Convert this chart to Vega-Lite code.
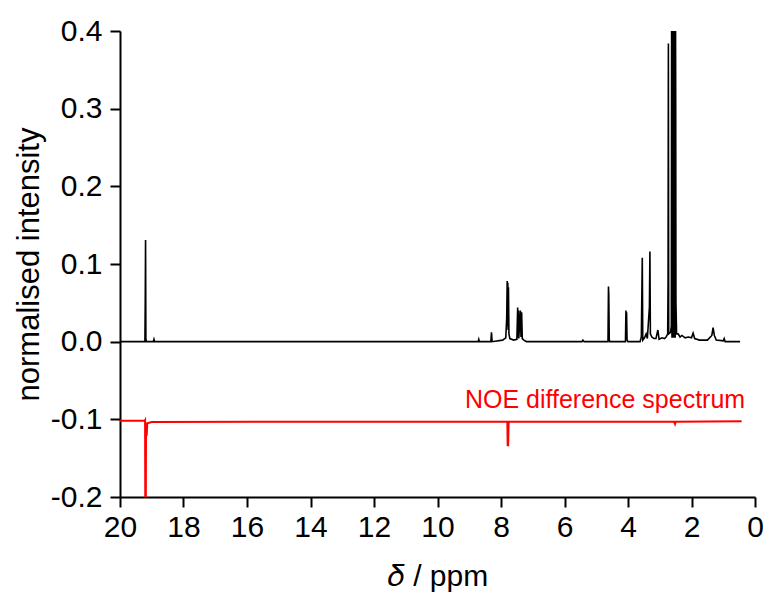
{
  "$schema": "https://vega.github.io/schema/vega-lite/v6.json",
  "width": 635,
  "height": 466,
  "autosize": "none",
  "padding": {"left": 120, "top": 31, "right": 8, "bottom": 104},
  "background": "white",
  "config": {
    "view": {"stroke": null},
    "font": "Liberation Sans"
  },
  "datasets": {
    "spectrum": [
      {"ppm": 20, "intensity": 0}, {"ppm": 19.26, "intensity": 0}, {"ppm": 19.215, "intensity": 0},
      {"ppm": 19.205, "intensity": 0.05}, {"ppm": 19.195, "intensity": 0.131}, {"ppm": 19.185, "intensity": 0.004},
      {"ppm": 19.17, "intensity": 0}, {"ppm": 18.95, "intensity": 0}, {"ppm": 18.93, "intensity": 0.003},
      {"ppm": 18.91, "intensity": 0}, {"ppm": 8.72, "intensity": 0}, {"ppm": 8.7, "intensity": 0.003},
      {"ppm": 8.68, "intensity": 0}, {"ppm": 8.32, "intensity": 0}, {"ppm": 8.3, "intensity": 0.012},
      {"ppm": 8.28, "intensity": 0}, {"ppm": 7.95, "intensity": 0.002}, {"ppm": 7.85, "intensity": 0.005},
      {"ppm": 7.82, "intensity": 0.03}, {"ppm": 7.805, "intensity": 0.078}, {"ppm": 7.795, "intensity": 0.02},
      {"ppm": 7.785, "intensity": 0.076}, {"ppm": 7.775, "intensity": 0.015}, {"ppm": 7.765, "intensity": 0.07},
      {"ppm": 7.75, "intensity": 0.01}, {"ppm": 7.72, "intensity": 0.004}, {"ppm": 7.6, "intensity": 0.002},
      {"ppm": 7.5, "intensity": 0.003}, {"ppm": 7.475, "intensity": 0.044}, {"ppm": 7.46, "intensity": 0.005},
      {"ppm": 7.45, "intensity": 0.04}, {"ppm": 7.44, "intensity": 0.004}, {"ppm": 7.39, "intensity": 0.04},
      {"ppm": 7.37, "intensity": 0.006}, {"ppm": 7.35, "intensity": 0.038}, {"ppm": 7.33, "intensity": 0.004},
      {"ppm": 7.28, "intensity": 0.002}, {"ppm": 7.2, "intensity": 0}, {"ppm": 5.45, "intensity": 0},
      {"ppm": 5.42, "intensity": 0.002}, {"ppm": 5.38, "intensity": 0}, {"ppm": 4.63, "intensity": 0},
      {"ppm": 4.615, "intensity": 0.071}, {"ppm": 4.605, "intensity": 0.06}, {"ppm": 4.59, "intensity": 0.002},
      {"ppm": 4.57, "intensity": 0}, {"ppm": 4.08, "intensity": 0}, {"ppm": 4.065, "intensity": 0.04},
      {"ppm": 4.055, "intensity": 0.018}, {"ppm": 4.045, "intensity": 0.038}, {"ppm": 4.03, "intensity": 0.002},
      {"ppm": 4.0, "intensity": 0}, {"ppm": 3.62, "intensity": 0}, {"ppm": 3.58, "intensity": 0.006},
      {"ppm": 3.55, "intensity": 0.108}, {"ppm": 3.535, "intensity": 0.002}, {"ppm": 3.48, "intensity": 0.005},
      {"ppm": 3.43, "intensity": 0.01}, {"ppm": 3.39, "intensity": 0.004}, {"ppm": 3.325, "intensity": 0.045},
      {"ppm": 3.31, "intensity": 0.116}, {"ppm": 3.295, "intensity": 0.01}, {"ppm": 3.25, "intensity": 0.006},
      {"ppm": 3.18, "intensity": 0.004}, {"ppm": 3.12, "intensity": 0.004}, {"ppm": 3.06, "intensity": 0.015},
      {"ppm": 3.02, "intensity": 0.003}, {"ppm": 2.93, "intensity": 0.005}, {"ppm": 2.85, "intensity": 0.004},
      {"ppm": 2.8, "intensity": 0.006}, {"ppm": 2.75, "intensity": 0.01}, {"ppm": 2.738, "intensity": 0.076},
      {"ppm": 2.728, "intensity": 0.384}, {"ppm": 2.718, "intensity": 0.01}, {"ppm": 2.66, "intensity": 0.012},
      {"ppm": 2.635, "intensity": 0.02}, {"ppm": 2.625, "intensity": 0.45}, {"ppm": 2.615, "intensity": 0.005},
      {"ppm": 2.605, "intensity": 0.45}, {"ppm": 2.595, "intensity": 0.005}, {"ppm": 2.585, "intensity": 0.45},
      {"ppm": 2.575, "intensity": 0.005}, {"ppm": 2.565, "intensity": 0.45}, {"ppm": 2.555, "intensity": 0.005},
      {"ppm": 2.545, "intensity": 0.45}, {"ppm": 2.535, "intensity": 0.005}, {"ppm": 2.525, "intensity": 0.45},
      {"ppm": 2.515, "intensity": 0.005}, {"ppm": 2.505, "intensity": 0.45}, {"ppm": 2.497, "intensity": 0.3},
      {"ppm": 2.49, "intensity": 0.05}, {"ppm": 2.47, "intensity": 0.01}, {"ppm": 2.42, "intensity": 0.01},
      {"ppm": 2.36, "intensity": 0.006}, {"ppm": 2.3, "intensity": 0.008}, {"ppm": 2.2, "intensity": 0.005},
      {"ppm": 2.1, "intensity": 0.006}, {"ppm": 2.0, "intensity": 0.005}, {"ppm": 1.95, "intensity": 0.011},
      {"ppm": 1.9, "intensity": 0.004}, {"ppm": 1.75, "intensity": 0.002}, {"ppm": 1.5, "intensity": 0.002},
      {"ppm": 1.36, "intensity": 0.008}, {"ppm": 1.32, "intensity": 0.018}, {"ppm": 1.28, "intensity": 0.008},
      {"ppm": 1.22, "intensity": 0.002}, {"ppm": 1.0, "intensity": 0.001}, {"ppm": 0.97, "intensity": 0.004},
      {"ppm": 0.94, "intensity": 0}, {"ppm": 0.47, "intensity": 0}
    ],
    "noe": [
      {"ppm": 20, "intensity": -0.1017}, {"ppm": 19.3, "intensity": -0.1017}, {"ppm": 19.22, "intensity": -0.1017},
      {"ppm": 19.21, "intensity": -0.101}, {"ppm": 19.2, "intensity": -0.26}, {"ppm": 19.19, "intensity": -0.26},
      {"ppm": 19.18, "intensity": -0.104}, {"ppm": 19.16, "intensity": -0.121}, {"ppm": 19.14, "intensity": -0.105},
      {"ppm": 19.0, "intensity": -0.1035}, {"ppm": 12, "intensity": -0.103}, {"ppm": 7.8, "intensity": -0.103},
      {"ppm": 7.79, "intensity": -0.1335}, {"ppm": 7.775, "intensity": -0.1335}, {"ppm": 7.76, "intensity": -0.103},
      {"ppm": 2.55, "intensity": -0.103}, {"ppm": 2.52, "intensity": -0.106}, {"ppm": 2.5, "intensity": -0.103},
      {"ppm": 0.42, "intensity": -0.1025}
    ],
    "annotation": [
      {"label": "NOE difference spectrum"}
    ]
  },
  "layer": [
    {
      "data": {"name": "spectrum"},
      "mark": {"type": "line", "color": "black", "strokeWidth": 1.6, "clip": true},
      "encoding": {
        "x": {
          "field": "ppm", "type": "quantitative",
          "scale": {"domain": [0, 20], "reverse": true, "nice": false, "zero": false},
          "axis": {
            "values": [0,1,2,3,4,5,6,7,8,9,10,11,12,13,14,15,16,17,18,19,20],
            "labelExpr": "datum.value % 2 == 0 ? format(datum.value, 'd') : ''",
            "tickSize": {"condition": {"test": "datum.value % 2 == 0", "value": 10}, "value": 5},
            "tickWidth": 2, "tickColor": "black",
            "domainWidth": 2, "domainColor": "black",
            "labelFontSize": 30, "labelColor": "black", "labelPadding": 5,
            "labelOverlap": false, "labelFlush": false, "grid": false,
            "title": "𝛿 / ppm", "titleFontSize": 30, "titleFontWeight": "normal", "titleColor": "black",
            "titleBaseline": "alphabetic", "titleY": 88
          }
        },
        "y": {
          "field": "intensity", "type": "quantitative",
          "scale": {"domain": [-0.2, 0.4], "nice": false, "zero": false},
          "axis": {
            "values": [-0.2,-0.15,-0.1,-0.05,0,0.05,0.1,0.15,0.2,0.25,0.3,0.35,0.4],
            "labelExpr": "abs(datum.value*10 - round(datum.value*10)) < 0.01 ? replace(format(datum.value, '.1f'), '\u2212', '-') : ''",
            "tickSize": {"condition": {"test": "abs(datum.value*10 - round(datum.value*10)) < 0.01", "value": 10}, "value": 5},
            "tickWidth": 2, "tickColor": "black",
            "domainWidth": 2, "domainColor": "black",
            "labelFontSize": 30, "labelColor": "black", "labelPadding": 8,
            "labelOverlap": false, "labelFlush": false, "grid": false,
            "title": "normalised intensity", "titleFontSize": 31, "titleFontWeight": "normal", "titleColor": "black",
            "titleBaseline": "middle", "titleX": -91, "titleY": 233
          }
        }
      }
    },
    {
      "data": {"name": "noe"},
      "mark": {"type": "line", "color": "#ff0000", "strokeWidth": 2, "clip": true},
      "encoding": {
        "x": {"field": "ppm", "type": "quantitative"},
        "y": {"field": "intensity", "type": "quantitative"}
      }
    },
    {
      "data": {"name": "annotation"},
      "mark": {"type": "text", "color": "#ff0000", "fontSize": 25, "align": "right", "baseline": "alphabetic", "font": "Liberation Sans"},
      "encoding": {
        "x": {"datum": 0.31, "type": "quantitative"},
        "y": {"datum": -0.0853, "type": "quantitative"},
        "text": {"field": "label", "type": "nominal"}
      }
    }
  ]
}
